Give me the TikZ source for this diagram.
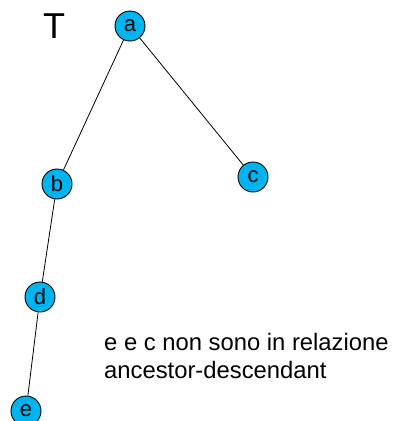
\documentclass[tikz,border=0pt]{standalone}
\usepackage{fontspec}
\setmainfont{Liberation Sans}
\definecolor{nodeblue}{RGB}{0,180,240}
\begin{document}
\begin{tikzpicture}[x=1pt,y=-1pt,
  vtx/.style={circle,draw=black,line width=0.9pt,fill=nodeblue,minimum size=30pt,inner sep=0pt,font=\fontsize{22}{22}\selectfont},
  edge/.style={draw=black,line width=0.8pt}]
\useasboundingbox (0,0) rectangle (393,421);
\clip (0,0) rectangle (393,421);
\node[font=\fontsize{36}{36}\selectfont,anchor=base] (T) at (54,38) {T};
\node[vtx] (a) at (130,26) {a};
\node[vtx] (b) at (57,184) {b};
\node[vtx] (c) at (253,177) {c};
\node[vtx] (d) at (40,297) {d};
\node[vtx] (e) at (26,411) {e};
\draw[edge] (a) -- (b);
\draw[edge] (a) -- (c);
\draw[edge] (b) -- (d);
\draw[edge] (d) -- (e);
\node[anchor=base west,inner sep=0pt,align=left,font=\fontsize{23.8}{28}\selectfont] (txt) at (104,378) {e e c non sono in relazione\\ancestor-descendant};
\end{tikzpicture}
\end{document}
